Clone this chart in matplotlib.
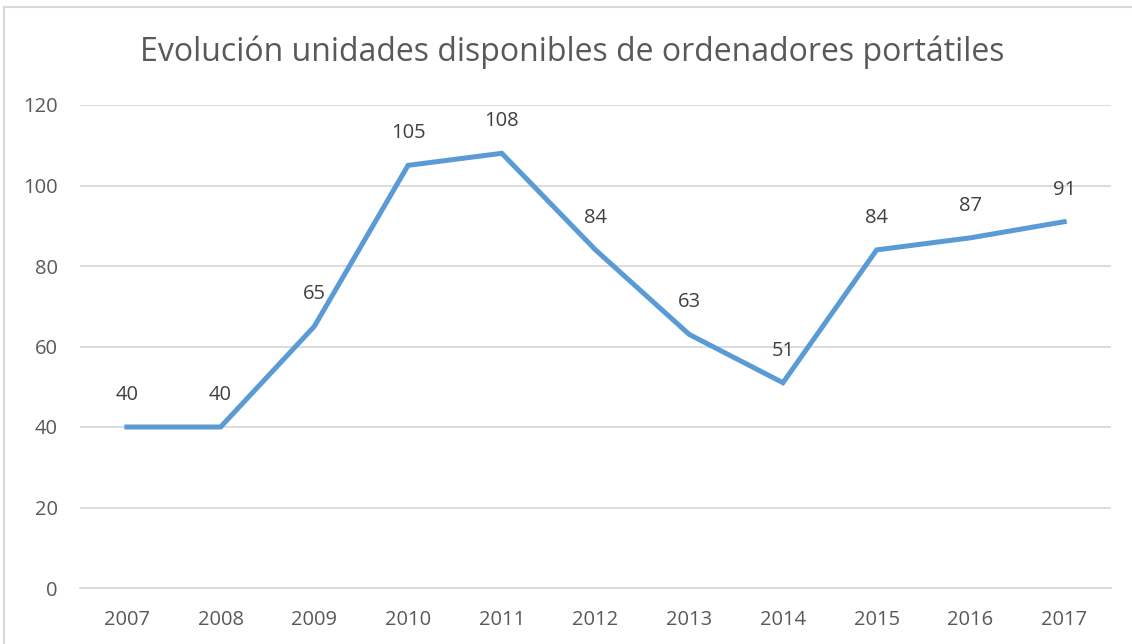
import matplotlib
matplotlib.use("Agg")
import matplotlib.pyplot as plt
from matplotlib.lines import Line2D

years = ["2007", "2008", "2009", "2010", "2011", "2012", "2013", "2014", "2015", "2016", "2017"]
units = [40, 40, 65, 105, 108, 84, 63, 51, 84, 87, 91]
yticks = [0, 20, 40, 60, 80, 100, 120]
title = "Evolución unidades disponibles de ordenadores portátiles"

plt.rcParams['font.family'] = ['Open Sans', 'DejaVu Sans']
W, H = 1132, 644
fig = plt.figure(figsize=(W / 100, H / 100), dpi=100)
fig.patch.set_facecolor("white")

ax = fig.add_axes([80 / W, 1 - 588 / H, (1111 - 80) / W, (588 - 105) / H])
x = list(range(len(years)))
ax.plot(x, units, color="#5B9BD5", linewidth=3.6, solid_joinstyle="miter", zorder=3)
for xi, v in zip(x, units):
    ax.annotate(str(v), (xi, v), xytext=(0, 23), textcoords="offset points",
                ha="center", va="center", fontsize=14.5, color="#404040")

ax.set_xlim(-0.5, len(years) - 0.5)
ax.set_ylim(0, 120)
ax.set_yticks(yticks)
ax.set_yticklabels([str(t) for t in yticks])
ax.set_xticks(x)
ax.set_xticklabels(years)
ax.tick_params(axis="both", length=0, labelsize=14.5, labelcolor="#595959")
ax.tick_params(axis="y", pad=16)
ax.tick_params(axis="x", pad=16)
ax.grid(axis="y", color="#D9D9D9", linewidth=1.3)
ax.set_axisbelow(True)
for s in ["top", "right", "left"]:
    ax.spines[s].set_visible(False)
ax.spines["bottom"].set_color("#D9D9D9")
ax.spines["bottom"].set_linewidth(1.3)

fig.text(572 / W, 1 - 52 / H, title, ha="center", va="center", fontsize=23, color="#595959")

# chart border (top and left visible)
fig.add_artist(Line2D([4 / W, 1], [1 - 7 / H, 1 - 7 / H], transform=fig.transFigure, color="#D9D9D9", linewidth=1.5))
fig.add_artist(Line2D([4 / W, 4 / W], [0, 1 - 7 / H], transform=fig.transFigure, color="#D9D9D9", linewidth=1.5))

fig.savefig("out.png", dpi=100)
